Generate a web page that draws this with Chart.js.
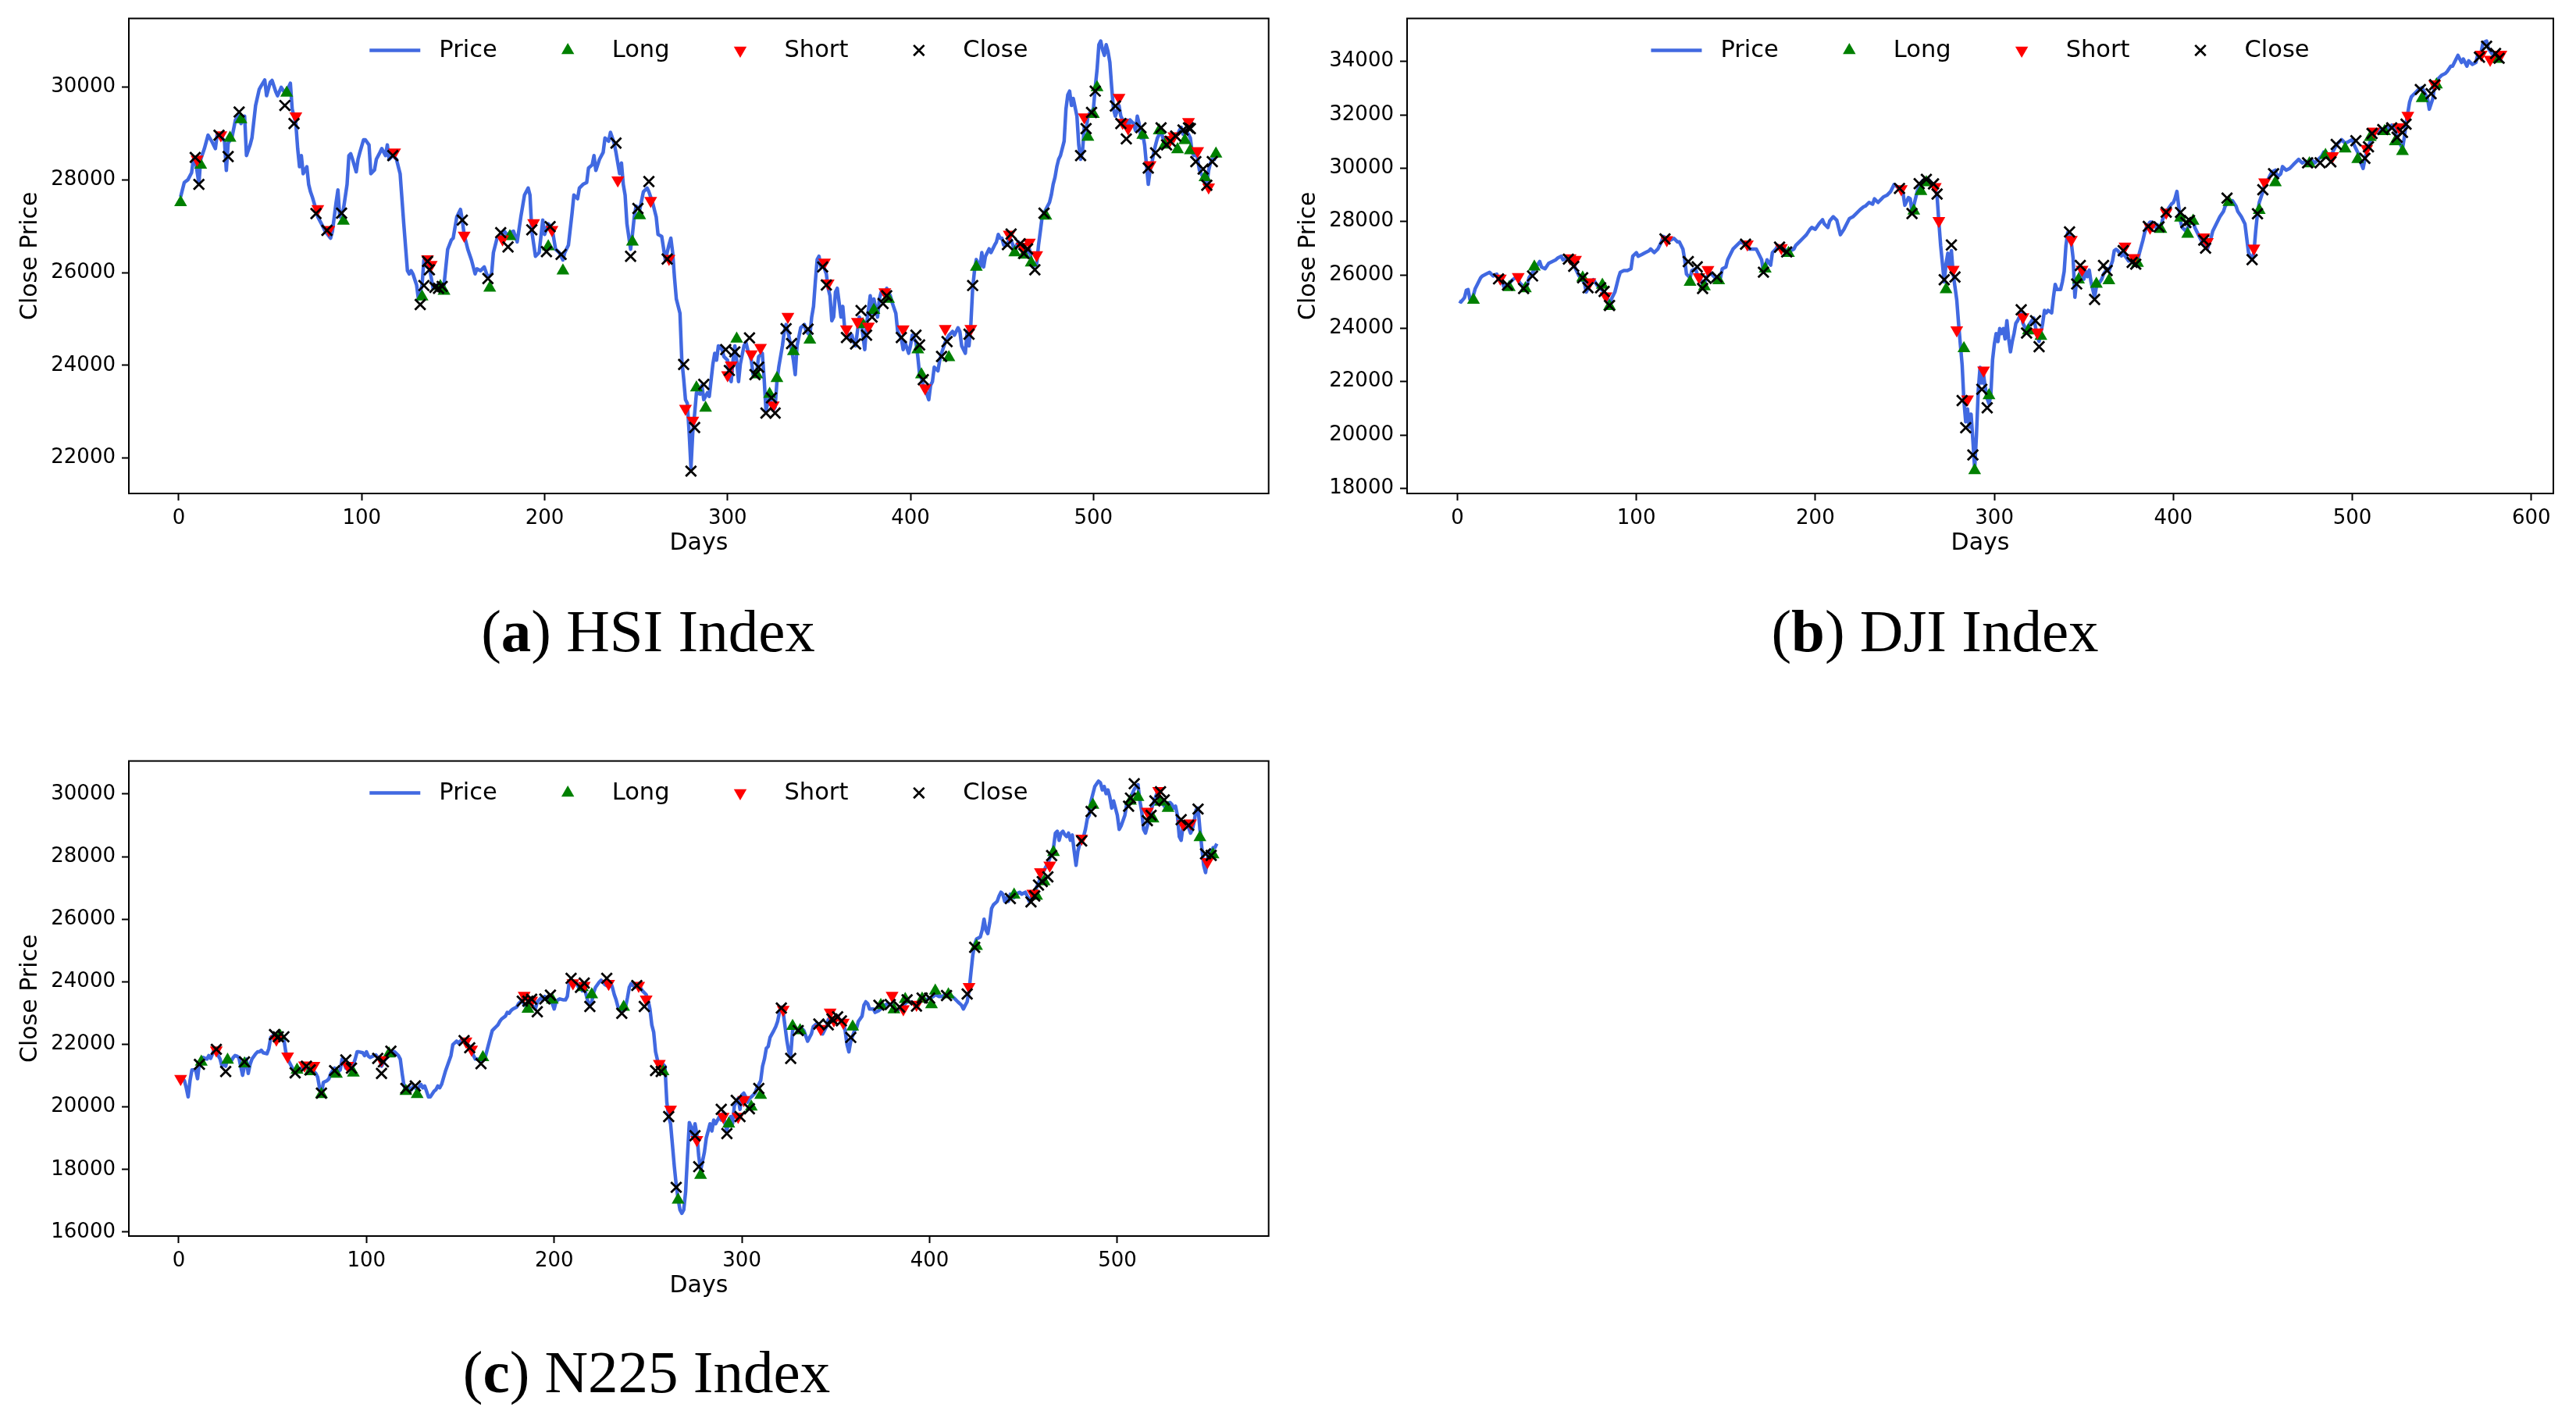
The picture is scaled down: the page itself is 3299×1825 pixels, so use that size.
<!DOCTYPE html>
<html>
<head>
<meta charset="utf-8">
<script src="https://cdn.jsdelivr.net/npm/chart.js@4.4.1/dist/chart.umd.min.js"></script>
<style>
  body { margin: 0; background: #fff; width: 3299px; height: 1825px; position: relative; overflow: hidden; }
  .panel { position: absolute; }
  .cap { position: absolute; width: 800px; text-align: center; white-space: nowrap;
         font-family: "Liberation Serif", serif; font-size: 77px; line-height: 77px; color: #000; }
</style>
</head>
<body>
<div class="panel" style="left:0;top:0;width:1637px;height:720px"><canvas id="hsi"></canvas></div>
<div class="panel" style="left:1637px;top:0;width:1662px;height:720px"><canvas id="dji"></canvas></div>
<div class="panel" style="left:0;top:951px;width:1637px;height:720px"><canvas id="n225"></canvas></div>
<div class="cap" style="left:430px;top:770px">(<b>a</b>) HSI Index</div>
<div class="cap" style="left:2078px;top:770px">(<b>b</b>) DJI Index</div>
<div class="cap" style="left:428px;top:1719px">(<b>c</b>) N225 Index</div>
<script>
// ---- HSI ----
const hsiDays = [
  1,3,5,7,8,9,11,12,14,16,18,20,
  21,23,25,26,27,29,31,33,34,36,37,39,
  40,42,44,45,47,48,50,51,53,54,56,58,
  60,61,62,64,65,66,67,68,70,71,72,73,
  75,76,78,80,83,84,86,87,88,90,92,93,
  94,95,97,98,99,101,102,104,105,107,108,110,
  111,113,114,115,117,119,121,122,123,125,126,127,
  128,130,131,132,133,134,136,137,138,139,141,143,
  145,147,149,150,152,154,155,156,158,160,162,163,
  165,167,169,171,172,174,176,178,180,181,183,185,
  187,189,191,192,193,195,197,199,200,202,204,206,
  208,210,211,213,215,216,218,219,221,223,224,226,
  227,228,230,232,233,235,236,238,239,241,242,243,
  244,245,247,248,249,250,252,254,256,257,259,261,
  262,264,266,268,269,270,271,272,274,275,276,277,
  278,279,280,281,282,283,285,286,287,289,290,292,
  293,294,295,297,298,300,301,302,303,304,305,306,
  307,309,310,311,313,314,316,317,319,320,321,322,
  323,325,326,327,328,330,331,332,333,335,336,337,
  338,340,342,343,345,346,347,348,349,350,351,352,
  354,355,356,357,358,359,360,362,363,364,365,367,
  368,369,370,372,373,375,376,378,379,380,382,383,
  384,386,387,389,390,392,393,394,395,396,397,399,
  400,401,403,404,405,406,407,408,410,411,412,413,
  415,416,417,419,420,421,423,424,426,427,428,430,
  431,432,433,434,435,436,438,439,440,441,442,443,
  444,446,447,448,449,450,451,453,454,455,456,457,
  458,459,461,462,463,464,465,466,467,469,470,471,
  472,473,474,476,477,478,479,480,481,482,484,485,
  486,487,488,489,491,492,493,494,495,496,497,498,
  500,501,502,503,504,505,506,507,508,509,510,511,
  512,514,515,516,517,518,519,520,522,523,524,525,
  526,527,528,530,531,532,533,534,535,537,538,539,
  540,541,542,543,545,546,547,548,549,550,552,553,
  554,555,556,557,558,560,561,562,563,564,565,567
];
const hsiPrice = [
  27630,27940,28000,28150,28440,28440,27920,28440,28670,28960,28830,28670,
  28980,28940,28830,28200,28790,28900,29290,29400,29210,29370,28520,28750,
  28900,29600,29950,30020,30150,29810,30100,30140,29900,29810,29990,29870,
  29990,30080,29520,29210,28670,28280,28520,28130,28280,27900,27740,27630,
  27360,27200,27050,26890,26740,26890,27510,27780,27200,27360,27900,28520,
  28560,28440,28170,28440,28590,28860,28860,28750,28130,28210,28440,28590,
  28670,28520,28750,28440,28520,28440,28130,27590,27050,26040,25970,26040,
  25970,25730,25430,25580,25730,26270,26190,26120,25890,25660,25730,25620,
  25730,26500,26700,26740,27200,27360,27130,26820,26500,26270,25970,26080,
  26040,26120,25890,25970,26430,26740,26820,26890,26780,26860,26890,26660,
  27200,27670,27820,27670,26890,26350,26430,27130,26820,27050,26970,26500,
  26430,26270,26430,26590,27280,27670,27590,27820,27900,27940,28250,28320,
  28520,28200,28440,28590,28900,28830,29020,28790,28590,28130,28360,27900,
  27670,27050,26500,26820,27200,27430,27360,27740,27820,27740,27510,27200,
  26820,26780,26270,26600,26740,26430,25890,25430,25120,24110,23720,23260,
  23180,22560,21790,22560,22950,23410,23380,23570,23260,23410,23330,24030,
  24260,24110,24420,24340,24190,24110,23720,23650,24110,24420,24110,23650,
  24030,24420,24500,24340,24110,23800,23880,24190,24260,23720,23030,23180,
  23330,23030,23100,23650,23960,24420,24730,24880,24730,24340,24110,23800,
  24420,24810,24880,24730,24650,25040,25270,25810,26280,26350,26120,26190,
  25970,25660,25500,24960,25040,25580,25660,25040,25270,24810,24730,24580,
  24650,24500,24420,25040,24960,24340,24880,25500,25120,25430,25040,25430,
  25580,25500,25660,25500,25350,25120,24730,24650,24580,24340,24500,24260,
  24420,24650,24500,24190,23800,23720,23570,23490,23260,23570,23650,23960,
  23880,24110,24260,24500,24580,24650,24730,24650,24810,24730,24420,24260,
  24730,24420,24880,25660,26040,26280,26120,26430,26120,26350,26430,26510,
  26430,26590,26660,26820,26740,26740,26590,26590,26740,26700,26590,26430,
  26590,26660,26510,26430,26510,26430,26510,26280,26120,26190,26590,26890,
  27200,27280,27360,27510,27670,27900,28050,28280,28440,28520,28830,29520,
  29830,29910,29600,29750,29370,28750,28440,28590,29130,29060,29370,29440,
  29520,29990,30370,30910,30990,30800,30680,30910,30760,30530,29990,29520,
  29370,29600,29370,29290,29210,29290,29060,29290,29210,29060,29370,29210,
  28900,28980,28750,27900,28200,28360,28590,28750,28900,29060,28900,28750,
  28900,28830,28900,28980,28940,28980,29060,29130,28980,29060,28980,28900,
  28590,28520,28590,28440,28200,28050,27980,27900,28200,28360,28440,28440
];
const hsiLongDays = [
  1,12,28,34,59,90,133,143,145,170,
  181,202,210,248,252,283,288,305,316,323,
  327,336,345,374,380,388,404,406,421,436,
  457,462,466,474,497,500,502,527,536,539,
  546,550,553,561,567
];
const hsiLongPrice = [
  27510,28320,28900,29300,29870,27110,25480,25700,25600,25670,
  26780,26560,26040,26660,27230,23520,23080,24570,23800,23380,
  23720,24300,24550,24880,25190,25430,24340,23800,24170,26120,
  26430,26380,26210,27220,28920,29410,29990,28960,29060,28750,
  28650,28850,28630,28050,28560
];
const hsiShortDays = [
  10,23,64,76,82,118,136,138,156,177,
  194,204,240,258,268,277,281,300,302,313,
  318,325,333,353,355,365,371,377,386,396,
  408,419,433,454,461,465,469,495,514,516,
  519,531,542,544,552,557,563
];
const hsiShortPrice = [
  28440,28960,29370,27370,26920,28590,26290,26170,26800,26720,
  27070,26920,27990,27550,26300,23070,22810,23790,24000,24240,
  24380,23140,25050,26220,25770,24780,24940,24840,25580,24780,
  23510,24790,24790,26820,26560,26650,26380,29350,29770,29230,
  29110,28320,28860,28940,29250,28620,27840
];
const hsiCloseDays = [
  9,11,22,27,33,58,63,75,81,89,
  117,132,134,136,137,140,142,144,155,169,
  176,180,193,201,203,209,239,247,251,257,
  267,276,280,282,287,299,301,304,312,315,
  317,321,324,326,332,335,344,352,354,365,
  370,373,376,379,385,387,395,403,405,407,
  417,420,432,434,453,455,460,462,464,468,
  473,493,496,499,501,512,515,518,526,530,
  534,537,540,542,545,549,552,553,556,560,
  562,565
];
const hsiClosePrice = [
  28480,27900,28960,28500,29460,29600,29210,27270,26910,27280,
  28520,25310,25720,26240,26060,25680,25660,25700,27130,25870,
  26860,26550,26920,26450,26990,26390,28790,26350,27380,27960,
  26290,24020,21720,22660,23590,24340,23890,24290,24590,23800,
  23960,22970,23300,22970,24790,24470,24780,26120,25730,24600,
  24460,25180,24650,25040,25330,25500,24600,24650,24440,23690,
  24190,24510,24670,25720,26600,26830,26620,26410,26510,26060,
  27280,28520,29100,29450,29910,29590,29210,28880,29120,28250,
  28580,29120,28750,28830,28940,29070,29120,29100,28390,28230,
  27880,28390
];
const hsiXTicks = [0, 100, 200, 300, 400, 500];
const hsiYTicks = [22000, 24000, 26000, 28000, 30000];

// ---- DJI ----
const djiDays = [
  1,2,4,5,6,7,8,10,11,13,14,16,
  18,20,22,23,25,26,28,30,31,33,35,37,
  39,40,42,44,46,47,49,51,53,55,56,58,
  59,61,63,65,66,68,69,71,72,73,75,76,
  78,80,82,84,85,86,88,89,90,91,93,95,
  97,98,100,101,103,105,107,108,110,112,114,115,
  117,119,121,123,124,126,127,128,130,131,133,134,
  136,137,138,139,141,142,144,145,147,148,150,151,
  153,154,156,158,160,162,163,165,167,168,170,171,
  172,173,175,176,178,179,181,183,184,186,188,189,
  191,193,195,197,198,200,202,204,205,207,208,210,
  212,213,214,216,218,219,221,223,225,227,228,230,
  232,233,235,237,238,240,242,244,246,249,250,252,
  253,254,255,257,258,260,263,265,267,268,269,270,
  271,272,273,274,275,276,277,278,279,280,281,282,
  283,284,285,286,287,288,289,290,291,292,293,294,
  295,296,297,298,299,300,301,302,303,304,305,306,
  307,308,309,310,311,312,313,315,316,318,319,321,
  322,324,325,327,328,329,330,332,333,334,335,337,
  338,339,340,341,342,343,344,345,346,347,348,349,
  350,351,352,353,354,355,356,357,359,360,361,363,
  364,366,367,368,369,371,372,374,375,377,378,380,
  381,383,384,385,387,388,390,391,393,394,396,397,
  399,400,401,402,403,404,405,407,409,411,412,414,
  416,418,419,421,422,424,426,428,429,431,433,435,
  436,438,440,441,442,444,445,446,447,448,450,451,
  453,455,457,458,460,461,463,465,467,468,470,472,
  474,475,477,479,481,483,484,486,488,489,491,493,
  494,496,498,500,501,503,504,506,507,508,510,511,
  513,514,516,518,519,521,522,524,525,527,528,529,
  530,531,532,533,535,537,539,540,542,543,545,546,
  548,550,552,553,555,556,558,559,561,562,564,565,
  567,569,570,572,573,575,576,578,579,581,582
];
const djiPrice = [
  25020,24980,25150,25420,25450,25085,25020,25490,25620,25890,25960,26030,
  26095,25960,26030,25825,25760,25555,25620,25760,25825,25920,25690,25555,
  25620,25890,26095,26295,26500,26295,26230,26430,26500,26565,26630,26700,
  26565,26630,26565,26430,26230,25960,25890,25690,25355,25490,25760,25825,
  25620,25490,25355,25085,24885,25085,25355,25620,25890,26095,26160,26160,
  26230,26700,26835,26700,26765,26835,26900,26970,26835,26970,27235,27440,
  27370,27300,27370,27235,27235,26970,26565,26030,25890,26160,26230,26030,
  25825,25620,25620,25890,26095,26030,25890,25825,25890,26230,26295,26565,
  26835,26970,27100,27235,27170,27100,26970,26970,26970,26835,26565,26095,
  26295,26565,26365,26835,26970,27100,27035,26970,26835,26900,26970,27100,
  27235,27370,27505,27710,27775,27710,27910,28070,27910,27775,28020,28180,
  28045,27775,27505,27710,27980,28110,28180,28310,28445,28555,28580,28715,
  28650,28850,28715,28850,28920,28985,29120,29390,29290,29050,28610,28900,
  28850,28370,28610,29150,29340,29535,29585,29440,29245,28950,27980,27100,
  26420,25740,26420,26810,26330,26910,26030,25550,25060,24185,23400,22630,
  21270,20490,20975,20290,20780,19810,18740,20000,21660,22530,21950,22240,
  21750,21360,21170,21460,22820,23410,23800,23500,23990,23800,23990,23600,
  24280,23600,23115,23505,23800,24185,24285,24575,24185,23895,24090,24285,
  24380,23700,23505,24185,24670,24575,24670,24575,25160,25645,25450,25450,
  25740,26130,27100,27590,27490,27200,26620,25160,25840,25740,26130,26030,
  25840,26130,25935,26180,25740,25450,25160,25545,25740,25840,26030,26230,
  26130,26520,26910,26960,26910,26715,26810,26620,26520,26570,26420,26520,
  26810,27300,27590,27785,27980,27980,27785,27880,27785,28075,28370,28465,
  28660,28710,28880,29130,28560,28000,27775,27640,27910,28045,27775,27505,
  27240,27100,26970,27370,27640,27910,28180,28380,28580,28780,28780,28580,
  28380,28180,27910,27370,26835,26565,26835,27640,28310,28715,29120,29390,
  29590,29860,29925,29660,29790,30060,29925,29990,30130,30195,30330,30195,
  30260,30195,30330,30195,30330,30465,30600,30465,30330,30600,30870,31000,
  31070,30935,31000,31070,30870,30600,30330,29990,30330,30600,31000,31200,
  31340,31405,31470,31430,31540,31470,31610,31405,31140,30870,30735,31140,
  31675,32080,32480,32680,32815,32950,33020,32885,32615,32210,32615,33150,
  33355,33490,33555,33625,33825,33825,34095,34230,33960,34095,33825,34025,
  33890,33960,34230,34365,34700,34765,34500,34295,34230,34160,34230
];
const djiLongDays = [
  9,29,38,43,70,81,85,130,138,146,
  172,185,255,259,262,273,283,289,297,319,
  326,347,357,364,380,393,404,408,411,431,
  448,457,476,485,496,503,510,518,524,528,
  539,547,581
];
const djiLongPrice = [
  25060,25530,25490,26300,25890,25620,24820,25730,25560,25790,
  26230,26810,28400,29130,29460,25450,23240,18670,21480,23910,
  23700,25820,25660,25790,26440,27710,28140,27530,28020,28720,
  28420,29460,30170,30490,30730,30330,31160,31380,31000,30630,
  32620,33130,34090
];
const djiShortDays = [
  24,34,63,66,74,83,117,135,140,162,
  181,248,267,269,277,279,285,294,316,324,
  343,349,373,378,387,396,417,419,445,451,
  489,508,512,526,531,546,572,577,583
];
const djiShortPrice = [
  25870,25930,26630,26570,25730,25200,27310,25920,26190,27150,
  27010,29220,29300,28030,26200,23930,21340,22420,24420,23850,
  27320,26200,27070,26640,27780,28340,27410,27240,27000,29480,
  30460,30730,31380,31540,31970,33150,34260,34070,34260
];
const djiCloseDays = [
  23,28,37,42,62,65,70,73,80,82,
  85,116,129,134,137,139,145,161,171,180,
  184,247,254,258,262,266,268,272,276,278,
  282,284,288,293,296,315,318,323,325,342,
  346,348,356,361,363,372,377,379,386,392,
  396,404,407,409,417,418,430,444,447,450,
  456,475,482,488,491,502,507,509,511,517,
  522,525,528,530,538,544,546,571,575,580,
  582
];
const djiClosePrice = [
  25850,25620,25490,25960,26590,26320,25890,25520,25520,25380,
  24850,27350,26500,26300,25490,25870,25920,27150,26100,27040,
  26860,29240,28300,29420,29580,29410,29030,25820,27120,25920,
  21290,20270,19250,21710,21020,24690,23820,24280,23310,27610,
  25660,26350,25080,26350,26160,26910,26470,26400,27820,27800,
  28350,28340,27960,28040,27300,27000,28880,26570,28290,29190,
  29790,30200,30200,30240,30890,31030,30370,30800,31300,31450,
  31510,31160,31340,31650,32950,32790,33130,34160,34570,34300,
  34120
];
const djiXTicks = [0, 100, 200, 300, 400, 500, 600];
const djiYTicks = [18000, 20000, 22000, 24000, 26000, 28000, 30000, 32000, 34000];

// ---- N225 ----
const n225Days = [
  1,3,4,5,6,7,9,10,11,12,13,15,
  16,17,18,19,20,22,23,24,25,26,28,29,
  30,31,32,34,35,36,37,38,39,41,42,43,
  44,45,47,48,49,50,51,53,54,55,56,57,
  58,60,61,62,63,64,66,67,68,69,70,72,
  73,74,75,76,77,79,80,81,82,83,85,86,
  87,88,89,91,92,93,94,95,96,98,99,100,
  101,102,104,105,106,107,108,110,111,112,113,114,
  115,117,118,119,120,121,123,124,125,126,127,129,
  130,131,132,133,134,136,137,138,139,140,142,143,
  144,145,146,148,149,150,151,152,153,155,156,157,
  158,159,161,162,163,164,165,167,168,169,170,171,
  172,174,175,176,177,178,180,181,182,183,184,186,
  187,188,189,190,191,193,194,195,196,197,199,200,
  201,202,203,205,206,207,208,209,211,212,213,214,
  215,216,218,219,220,221,222,224,225,226,227,228,
  230,231,232,233,234,235,237,238,239,240,241,243,
  244,245,246,247,249,250,251,252,253,254,256,257,
  258,259,260,261,262,263,264,265,266,267,268,269,
  270,271,272,273,274,275,276,277,278,280,281,282,
  283,284,285,286,288,289,290,291,292,293,294,295,
  296,298,299,300,301,302,303,304,305,307,308,309,
  310,311,312,313,314,315,317,318,319,320,321,322,
  323,324,325,326,327,328,330,332,333,335,336,337,
  338,340,342,343,345,346,347,349,351,352,354,355,
  356,357,358,360,361,362,364,365,366,367,368,370,
  371,373,375,376,378,380,381,383,385,387,388,390,
  392,393,395,396,398,400,402,403,405,407,408,410,
  412,413,415,417,418,419,420,421,422,423,424,425,
  427,428,429,430,431,432,433,434,436,437,438,439,
  440,441,442,443,445,446,448,449,451,452,453,455,
  456,457,458,459,460,461,462,463,464,465,466,467,
  468,469,470,471,472,473,474,475,476,477,478,479,
  480,482,483,484,485,486,487,488,489,490,491,492,
  493,494,495,496,497,498,500,501,502,503,504,505,
  506,507,508,509,510,511,512,513,514,515,516,517,
  519,520,521,522,523,524,525,526,527,528,529,530,
  531,532,533,534,535,536,538,539,540,541,542,543,
  544,545,546,547,548,549,550,551,552,553
];
const n225Price = [
  20950,20840,20610,20320,20840,21180,21180,20900,21410,21470,21580,21530,
  21640,21550,21700,21870,21760,21530,21300,21410,21300,21530,21470,21580,
  21640,21620,21580,21010,21300,21530,21070,21360,21530,21700,21760,21760,
  21810,21730,21700,21870,22220,22270,22330,22160,22330,22220,22160,21760,
  21530,21300,21180,21130,21240,21130,21300,21240,21300,21180,21240,21130,
  21070,20950,20610,20400,20780,20840,20900,21070,21160,21240,21130,21180,
  21530,21410,21240,21180,21240,21360,21530,21760,21760,21730,21640,21760,
  21620,21580,21640,21660,21580,21530,21300,21530,21580,21640,21760,21780,
  21760,21640,21530,21070,20670,20550,20610,20550,20670,20610,20550,20720,
  20610,20670,20500,20320,20320,20500,20550,20670,20610,20720,21130,21300,
  21470,21640,21990,22100,22040,22100,22160,22100,22040,21930,21760,21640,
  21530,21530,21470,21580,21530,21760,21990,22440,22500,22560,22620,22730,
  22810,22900,23020,22990,23080,23130,23190,23300,23360,23420,23250,23300,
  23360,23250,23190,23130,23360,23480,23420,23530,23480,23420,23300,23130,
  23360,23420,23450,23420,23420,23530,23990,24050,23940,23940,23820,23880,
  23710,23820,23360,23250,23360,23650,23820,23990,24050,23990,23910,23880,
  23990,23820,23590,23420,23190,23130,23080,23190,23480,23820,23940,23820,
  23910,23940,23800,23710,23590,23420,23130,22620,22390,21760,21240,21180,
  21360,21300,20150,19700,19460,18780,18090,17510,17060,16710,16600,16710,
  17280,18430,19500,19350,19000,19460,19120,18430,17970,18550,19000,19230,
  19460,19230,19580,19460,19690,19580,19810,19460,19230,19580,19690,19460,
  20040,20270,19920,20380,20440,20320,20150,20270,20320,20440,20610,20720,
  20840,21300,21530,21870,21930,22220,22440,22560,22730,23020,23190,23020,
  22560,22100,21760,21640,22440,22560,22440,22500,22440,22100,22220,22330,
  22560,22670,22560,22330,22560,22790,22850,22730,22900,22790,22730,22440,
  21990,21760,22100,22440,22500,22730,22900,23250,23360,23300,23130,23130,
  23020,23080,23190,23250,23300,23250,23130,23080,23190,23300,23360,23360,
  23300,23250,23360,23480,23420,23480,23530,23590,23530,23530,23590,23590,
  23530,23480,23360,23250,23130,23250,23360,23710,24280,24850,25200,25370,
  25430,25650,26000,25650,25540,25880,26340,26460,26570,26740,26860,26800,
  26570,26690,26570,26800,26690,26800,26860,26800,26860,26740,26570,26800,
  26740,27030,27150,27320,27490,27560,27680,27780,27950,28120,28290,28750,
  28810,28520,28750,28810,28700,28640,28750,28520,28690,28180,27720,28180,
  28410,28640,28870,29210,29320,29780,30010,30240,30330,30410,30360,30130,
  30240,30010,30130,29900,29550,29780,29320,28870,28980,29150,29320,29670,
  29780,29900,30010,30150,30240,30300,29780,29440,28870,28750,28980,29320,
  29670,29840,30010,29900,29780,29730,29610,29670,29700,29730,29670,29550,
  29610,29320,28640,28520,28980,29100,28920,28750,28870,29150,29500,29550,
  28870,28290,27720,27490,27950,28180,27950,28290,28290,28410
];
const n225LongDays = [
  12,26,35,54,63,70,76,84,93,112,
  121,127,162,186,199,215,220,237,258,266,
  278,293,305,310,327,331,359,374,381,387,
  396,401,403,410,425,445,457,461,466,487,
  507,511,519,523,527,544,551
];
const n225LongPrice = [
  21440,21500,21380,22270,21180,21130,20400,21050,21090,21700,
  20500,20400,21580,23130,23420,23820,23590,23190,21130,17030,
  17820,19460,20000,20380,22580,22440,22560,23250,23110,23440,
  23450,23270,23710,23590,25140,26780,26740,27200,28140,29650,
  29780,29900,29210,29750,29550,28610,28060
];
const n225ShortDays = [
  1,20,52,58,67,72,90,108,153,156,
  184,188,210,216,229,245,249,256,262,276,
  290,298,301,322,342,347,349,354,380,386,
  393,421,455,459,464,481,516,522,535,539,
  548
];
const n225ShortPrice = [
  20900,21810,22160,21620,21330,21320,21320,21500,22100,21840,
  23560,23400,23960,23880,23940,23880,23440,21380,19920,18950,
  19690,19690,20230,23110,22500,23020,22770,22700,23560,23130,
  23270,23840,26820,27510,27720,28580,29440,30100,29040,29070,
  27830
];
const n225CloseDays = [
  11,20,25,35,51,53,56,62,68,70,
  76,83,89,92,106,108,109,113,121,126,
  152,155,161,183,186,188,191,195,198,209,
  214,216,219,228,236,244,248,254,257,261,
  265,275,277,289,292,297,299,304,309,321,
  326,330,341,346,348,351,353,358,373,379,
  384,388,393,396,400,409,420,424,443,454,
  456,458,460,463,465,481,486,506,507,509,
  516,518,520,523,525,534,538,543,547,550
];
const n225ClosePrice = [
  21360,21840,21130,21440,22310,22240,22240,21090,21300,21180,
  20440,21160,21500,21240,21550,21070,21440,21780,20590,20670,
  22120,21890,21380,23380,23380,23440,23040,23450,23570,24110,
  23820,23960,23210,24110,22990,23880,23210,21160,21130,19690,
  17430,19080,18090,19920,19150,20210,19690,19940,20590,23160,
  21550,22440,22650,22620,22810,22880,22750,22220,23250,23270,
  23190,23420,23220,23480,23480,23560,23610,25100,26660,26550,
  26740,27090,27200,27350,28030,28500,29440,29610,29870,30330,
  29150,29320,29780,30070,29810,29180,29000,29520,28090,28040
];
const n225XTicks = [0, 100, 200, 300, 400, 500];
const n225YTicks = [16000, 18000, 20000, 22000, 24000, 26000, 28000, 30000];

// ---- drawing ----
Chart.defaults.font.family = "'DejaVu Sans', sans-serif";
Chart.defaults.color = '#000';

const pts = (xs, ys) => xs.map((x, i) => ({ x: x, y: ys[i] }));

// box around the plot, like the matplotlib spines
const frame = {
  id: 'frame',
  afterDraw(chart) {
    const { ctx, chartArea: a } = chart;
    ctx.save();
    ctx.strokeStyle = '#000';
    ctx.lineWidth = 2;
    ctx.strokeRect(a.left, a.top, a.right - a.left, a.bottom - a.top);
    ctx.restore();
  }
};

// one-row legend drawn inside the top of the plot
const insideLegend = {
  id: 'insideLegend',
  afterDraw(chart) {
    const { ctx, chartArea } = chart;
    const sets = chart.data.datasets;
    const box = 65, gap = 24, pad = 58;
    ctx.save();
    ctx.font = "30.5px 'DejaVu Sans', sans-serif";
    ctx.textBaseline = 'middle';
    const widths = sets.map(d => ctx.measureText(d.label).width);
    const total = widths.reduce((s, w) => s + box + gap + w, 0) + pad * (sets.length - 1);
    let x = (chartArea.left + chartArea.right - total) / 2;
    const y = chartArea.top + 41;
    sets.forEach((d, i) => {
      if (d.showLine === false) {
        ctx.fillStyle = d.backgroundColor;
        ctx.strokeStyle = d.borderColor;
        ctx.lineWidth = d.borderWidth;
        Chart.helpers.drawPoint(ctx, {
          pointStyle: d.pointStyle, rotation: d.pointRotation || 0,
          radius: d.pointRadius, borderWidth: d.borderWidth
        }, x + box / 2, y);
      } else {
        ctx.strokeStyle = d.borderColor;
        ctx.lineWidth = d.borderWidth;
        ctx.beginPath();
        ctx.moveTo(x, y);
        ctx.lineTo(x + box, y);
        ctx.stroke();
      }
      ctx.fillStyle = '#000';
      ctx.fillText(d.label, x + box + gap, y);
      x += box + gap + widths[i] + pad;
    });
    ctx.restore();
  }
};

function makeChart(id, s) {
  new Chart(document.getElementById(id), {
    type: 'line',
    data: {
      datasets: [
        { label: 'Price', data: pts(s.days, s.price), borderColor: '#4169e1', backgroundColor: '#4169e1',
          borderWidth: 4.5, borderJoinStyle: 'round', pointRadius: 0, pointHoverRadius: 0, tension: 0, order: 4 },
        { label: 'Long', data: pts(s.longDays, s.longPrice), showLine: false, pointStyle: 'triangle',
          pointRadius: 9.5, pointHoverRadius: 9.5, backgroundColor: '#008000', borderColor: '#008000', borderWidth: 0, order: 3 },
        { label: 'Short', data: pts(s.shortDays, s.shortPrice), showLine: false, pointStyle: 'triangle', pointRotation: 180,
          pointRadius: 9.5, pointHoverRadius: 9.5, backgroundColor: '#ff0000', borderColor: '#ff0000', borderWidth: 0, order: 2 },
        { label: 'Close', data: pts(s.closeDays, s.closePrice), showLine: false, pointStyle: 'crossRot',
          pointRadius: 9.5, pointHoverRadius: 9.5, backgroundColor: '#000', borderColor: '#000', borderWidth: 2.8, order: 1 }
      ]
    },
    options: {
      responsive: true,
      maintainAspectRatio: false,
      animation: false,
      events: [],
      layout: { padding: { left: 0, top: 22, right: s.padRight, bottom: 0 } },
      plugins: { legend: { display: false }, tooltip: { enabled: false } },
      scales: {
        x: {
          type: 'linear', min: s.xMin, max: s.xMax,
          afterBuildTicks: ax => { ax.ticks = s.xTicks.map(v => ({ value: v })); },
          afterFit: ax => { ax.height = 88; },
          border: { display: false },
          grid: { drawOnChartArea: false, drawTicks: true, tickLength: 9, tickWidth: 2, tickColor: '#000' },
          ticks: { font: { size: 26 }, color: '#000', padding: 8, maxRotation: 0, autoSkip: false, callback: v => String(v) },
          title: { display: true, text: 'Days', font: { size: 30 }, color: '#000', padding: { top: 0, bottom: 6 } }
        },
        y: {
          type: 'linear', min: s.yMin, max: s.yMax,
          afterBuildTicks: ax => { ax.ticks = s.yTicks.map(v => ({ value: v })); },
          afterFit: ax => { ax.width = 165; },
          border: { display: false },
          grid: { drawOnChartArea: false, drawTicks: true, tickLength: 9, tickWidth: 2, tickColor: '#000' },
          ticks: { font: { size: 26 }, color: '#000', padding: 8, autoSkip: false, callback: v => String(v) },
          title: { display: true, text: 'Close Price', font: { size: 30 }, color: '#000', padding: { top: 21.6, bottom: 0 } }
        }
      }
    },
    plugins: [frame, insideLegend]
  });
}

makeChart('hsi', {
  days: hsiDays, price: hsiPrice,
  longDays: hsiLongDays, longPrice: hsiLongPrice,
  shortDays: hsiShortDays, shortPrice: hsiShortPrice,
  closeDays: hsiCloseDays, closePrice: hsiClosePrice,
  xTicks: hsiXTicks, yTicks: hsiYTicks,
  xMin: -27.3, xMax: 595.8, yMin: 21238, yMax: 31476, padRight: 4
});
makeChart('dji', {
  days: djiDays, price: djiPrice,
  longDays: djiLongDays, longPrice: djiLongPrice,
  shortDays: djiShortDays, shortPrice: djiShortPrice,
  closeDays: djiCloseDays, closePrice: djiClosePrice,
  xTicks: djiXTicks, yTicks: djiYTicks,
  xMin: -28.1, xMax: 612.3, yMin: 17805, yMax: 35614, padRight: 29
});
makeChart('n225', {
  days: n225Days, price: n225Price,
  longDays: n225LongDays, longPrice: n225LongPrice,
  shortDays: n225ShortDays, shortPrice: n225ShortPrice,
  closeDays: n225CloseDays, closePrice: n225ClosePrice,
  xTicks: n225XTicks, yTicks: n225YTicks,
  xMin: -26.6, xMax: 580.6, yMin: 15873, yMax: 31055, padRight: 4
});
</script>
</body>
</html>
